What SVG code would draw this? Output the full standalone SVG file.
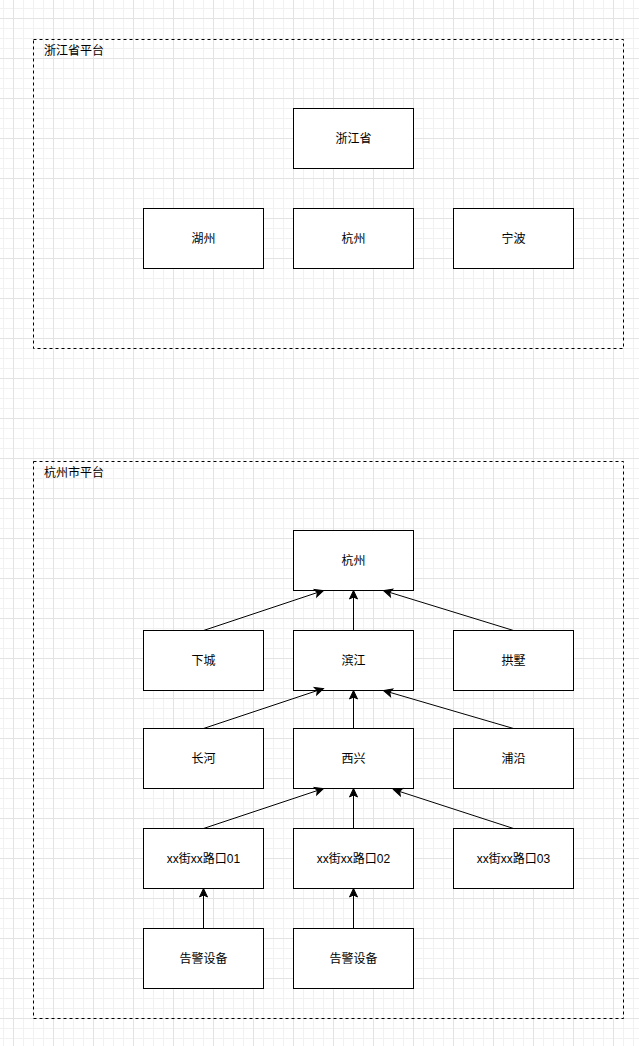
<svg xmlns="http://www.w3.org/2000/svg" width="639" height="1046" viewBox="0 0 639 1046">
  <defs>
    <pattern id="gridMinor" patternUnits="userSpaceOnUse" x="3" y="8" width="10" height="10">
      <path d="M0.5 0 V10 M0 0.5 H10" fill="none" stroke="#f1f1f1" stroke-width="1"/>
    </pattern>
    <pattern id="gridMajor" patternUnits="userSpaceOnUse" x="13" y="18" width="40" height="40">
      <path d="M0.5 0 V40 M0 0.5 H40" fill="none" stroke="#e3e3e3" stroke-width="1"/>
    </pattern>
    <marker id="arrow" markerUnits="userSpaceOnUse" markerWidth="12" markerHeight="12" refX="10" refY="5" orient="auto" viewBox="0 0 12 10">
      <path d="M1.5,1 L10,5 L1.5,9 L3.5,5 Z" fill="#000" stroke="#000" stroke-width="1" stroke-linejoin="miter"/>
    </marker>
    <style>
      .container { fill: none; stroke: #000; stroke-width: 1; stroke-dasharray: 3 3; }
      .node rect { fill: #fff; stroke: #000; stroke-width: 1; }
      .label { font-family: "Liberation Sans", "Noto Sans CJK SC", sans-serif; font-size: 12px; fill: #000; }
      .node text { text-anchor: middle; }
      .edge { fill: none; stroke: #000; stroke-width: 1; marker-end: url(#arrow); }
    </style>
  </defs>

  <!-- background grid -->
  <rect x="0" y="0" width="639" height="1046" fill="#fff"/>
  <rect x="0" y="0" width="639" height="1046" fill="url(#gridMinor)"/>
  <rect x="0" y="0" width="639" height="1046" fill="url(#gridMajor)"/>

  <!-- provincial platform -->
  <g id="zhejiang-platform">
    <rect class="container" x="33.5" y="39.5" width="590" height="309"/>
    <text class="label" x="44" y="54.5">浙江省平台</text>
  </g>
  <g id="zhejiang" class="node"><rect x="293.5" y="108.5" width="120" height="60"/><text class="label" x="353.5" y="142.5">浙江省</text></g>
  <g id="huzhou" class="node"><rect x="143.5" y="208.5" width="120" height="60"/><text class="label" x="203.5" y="242.5">湖州</text></g>
  <g id="hangzhou-p" class="node"><rect x="293.5" y="208.5" width="120" height="60"/><text class="label" x="353.5" y="242.5">杭州</text></g>
  <g id="ningbo" class="node"><rect x="453.5" y="208.5" width="120" height="60"/><text class="label" x="513.5" y="242.5">宁波</text></g>

  <!-- city platform -->
  <g id="hangzhou-platform">
    <rect class="container" x="33.5" y="461.5" width="590" height="557"/>
    <text class="label" x="44" y="476.5">杭州市平台</text>
  </g>
  <g id="hangzhou" class="node"><rect x="293.5" y="530.5" width="120" height="60"/><text class="label" x="353.5" y="564.5">杭州</text></g>
  <g id="xiacheng" class="node"><rect x="143.5" y="630.5" width="120" height="60"/><text class="label" x="203.5" y="664.5">下城</text></g>
  <g id="binjiang" class="node"><rect x="293.5" y="630.5" width="120" height="60"/><text class="label" x="353.5" y="664.5">滨江</text></g>
  <g id="gongshu" class="node"><rect x="453.5" y="630.5" width="120" height="60"/><text class="label" x="513.5" y="664.5">拱墅</text></g>
  <g id="changhe" class="node"><rect x="143.5" y="728.5" width="120" height="60"/><text class="label" x="203.5" y="762.5">长河</text></g>
  <g id="xixing" class="node"><rect x="293.5" y="728.5" width="120" height="60"/><text class="label" x="353.5" y="762.5">西兴</text></g>
  <g id="puyan" class="node"><rect x="453.5" y="728.5" width="120" height="60"/><text class="label" x="513.5" y="762.5">浦沿</text></g>
  <g id="junction01" class="node"><rect x="143.5" y="828.5" width="120" height="60"/><text class="label" x="203.5" y="862.5">xx街xx路口01</text></g>
  <g id="junction02" class="node"><rect x="293.5" y="828.5" width="120" height="60"/><text class="label" x="353.5" y="862.5">xx街xx路口02</text></g>
  <g id="junction03" class="node"><rect x="453.5" y="828.5" width="120" height="60"/><text class="label" x="513.5" y="862.5">xx街xx路口03</text></g>
  <g id="alarm01" class="node"><rect x="143.5" y="928.5" width="120" height="60"/><text class="label" x="203.5" y="962.5">告警设备</text></g>
  <g id="alarm02" class="node"><rect x="293.5" y="928.5" width="120" height="60"/><text class="label" x="353.5" y="962.5">告警设备</text></g>

  <!-- connectors -->
  <g id="connectors">
    <path class="edge" d="M203.5 630.5 L323.5 590.5"/>
    <path class="edge" d="M353.5 630.5 L353.5 590.5"/>
    <path class="edge" d="M513.5 630.5 L383.5 590.5"/>
    <path class="edge" d="M203.5 728.5 L323.5 688.5"/>
    <path class="edge" d="M353.5 728.5 L353.5 690.5"/>
    <path class="edge" d="M513.5 728.5 L383.5 690.5"/>
    <path class="edge" d="M203.5 828.5 L323.5 788.5"/>
    <path class="edge" d="M353.5 828.5 L353.5 788.5"/>
    <path class="edge" d="M513.5 828.5 L393.5 789.5"/>
    <path class="edge" d="M203.5 928.5 L203.5 888.5"/>
    <path class="edge" d="M353.5 928.5 L353.5 888.5"/>
  </g>
</svg>
